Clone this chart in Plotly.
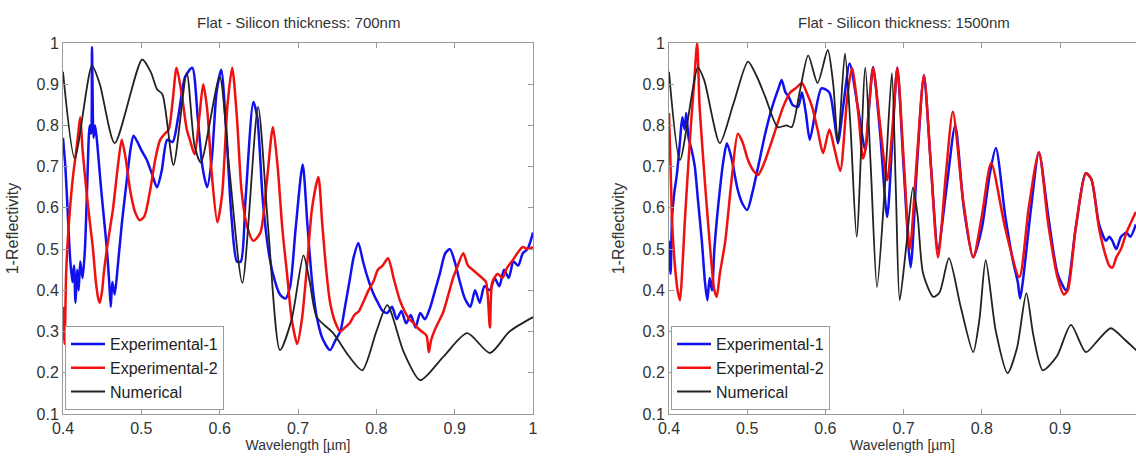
import plotly.graph_objects as go

# ---- 700 nm (left panel) ----
wl_700_exp1 = [0.400, 0.403, 0.406, 0.409, 0.412, 0.414, 0.416, 0.418, 0.420, 0.422, 0.425, 0.428, 0.431, 0.434,
               0.436, 0.437, 0.439, 0.441, 0.444, 0.448, 0.452, 0.456, 0.459, 0.461, 0.463, 0.466, 0.470, 0.475,
               0.481, 0.486, 0.490, 0.495, 0.500, 0.507, 0.514, 0.520, 0.526, 0.533, 0.540, 0.547, 0.556, 0.565,
               0.572, 0.578, 0.584, 0.590, 0.596, 0.602, 0.608, 0.615, 0.622, 0.627, 0.633, 0.643, 0.648, 0.655,
               0.662, 0.668, 0.677, 0.684, 0.690, 0.697, 0.706, 0.712, 0.718, 0.724, 0.732, 0.741, 0.748, 0.754,
               0.760, 0.766, 0.771, 0.777, 0.783, 0.789, 0.796, 0.802, 0.808, 0.814, 0.820, 0.826, 0.832, 0.838,
               0.844, 0.850, 0.856, 0.862, 0.869, 0.875, 0.881, 0.888, 0.894, 0.900, 0.907, 0.913, 0.920, 0.926,
               0.932, 0.938, 0.945, 0.951, 0.957, 0.963, 0.969, 0.975, 0.981, 0.987, 0.993, 1.000]
r_700_exp1 = [0.77, 0.70, 0.59, 0.48, 0.42, 0.46, 0.37, 0.45, 0.40, 0.47, 0.43, 0.50, 0.66, 0.80,
              0.78, 0.99, 0.77, 0.80, 0.75, 0.66, 0.58, 0.50, 0.42, 0.36, 0.42, 0.39, 0.46, 0.56,
              0.66, 0.74, 0.775, 0.76, 0.74, 0.716, 0.68, 0.65, 0.69, 0.765, 0.76, 0.82, 0.918, 0.94,
              0.82, 0.70, 0.65, 0.72, 0.88, 0.935, 0.80, 0.58, 0.47, 0.47, 0.62, 0.857, 0.82, 0.62,
              0.50, 0.44, 0.39, 0.38, 0.41, 0.55, 0.705, 0.56, 0.42, 0.335, 0.28, 0.255, 0.28, 0.30,
              0.36, 0.425, 0.48, 0.515, 0.47, 0.43, 0.393, 0.37, 0.35, 0.345, 0.36, 0.33, 0.35, 0.32,
              0.34, 0.31, 0.345, 0.33, 0.36, 0.40, 0.44, 0.49, 0.50, 0.47, 0.418, 0.38, 0.36, 0.40,
              0.37, 0.41, 0.40, 0.43, 0.41, 0.45, 0.43, 0.47, 0.46, 0.49, 0.50, 0.54]

wl_700_exp2 = [0.400, 0.402, 0.404, 0.406, 0.409, 0.413, 0.417, 0.420, 0.422, 0.425, 0.430, 0.434, 0.438, 0.442,
               0.445, 0.447, 0.450, 0.452, 0.456, 0.460, 0.464, 0.470, 0.475, 0.480, 0.486, 0.492, 0.498, 0.504,
               0.511, 0.518, 0.524, 0.530, 0.535, 0.540, 0.545, 0.552, 0.558, 0.562, 0.568, 0.574, 0.579, 0.584,
               0.590, 0.597, 0.603, 0.610, 0.616, 0.622, 0.628, 0.635, 0.643, 0.652, 0.660, 0.668, 0.674, 0.680,
               0.686, 0.692, 0.699, 0.705, 0.712, 0.718, 0.726, 0.731, 0.736, 0.741, 0.748, 0.754, 0.760, 0.766,
               0.772, 0.778, 0.783, 0.790, 0.796, 0.802, 0.808, 0.815, 0.822, 0.830, 0.836, 0.842, 0.848, 0.852,
               0.858, 0.864, 0.867, 0.870, 0.876, 0.885, 0.892, 0.898, 0.903, 0.911, 0.917, 0.923, 0.929, 0.935,
               0.940, 0.945, 0.948, 0.955, 0.961, 0.967, 0.973, 0.980, 0.987, 0.993, 1.000]
r_700_exp2 = [0.36, 0.27, 0.44, 0.52, 0.60, 0.68, 0.74, 0.79, 0.82, 0.74, 0.64, 0.57, 0.505, 0.42,
              0.38, 0.37, 0.40, 0.44, 0.50, 0.55, 0.60, 0.70, 0.765, 0.72, 0.64, 0.59, 0.57, 0.58,
              0.64, 0.72, 0.765, 0.78, 0.79, 0.86, 0.94, 0.87, 0.79, 0.765, 0.73, 0.82, 0.90, 0.84,
              0.68, 0.565, 0.63, 0.85, 0.94, 0.82, 0.64, 0.555, 0.52, 0.54, 0.66, 0.796, 0.70, 0.55,
              0.44, 0.33, 0.27, 0.33, 0.47, 0.60, 0.675, 0.56, 0.45, 0.37, 0.32, 0.30, 0.31, 0.32,
              0.34, 0.35, 0.37, 0.40, 0.42, 0.45, 0.46, 0.478, 0.43, 0.376, 0.35, 0.33, 0.32, 0.31,
              0.30, 0.29, 0.25, 0.28, 0.31, 0.345, 0.39, 0.43, 0.455, 0.49, 0.46, 0.45, 0.44, 0.43,
              0.42, 0.31, 0.42, 0.44, 0.43, 0.455, 0.47, 0.49, 0.505, 0.50, 0.505]

wl_700_num = [0.400, 0.415, 0.437, 0.447, 0.466, 0.501, 0.512, 0.520, 0.527, 0.541, 0.558, 0.568, 0.576, 0.600,
              0.612, 0.629, 0.649, 0.662, 0.677, 0.692, 0.707, 0.715, 0.724, 0.745, 0.765, 0.782, 0.800, 0.814,
              0.835, 0.856, 0.886, 0.916, 0.945, 0.970, 1.000]
r_700_num = [0.93, 0.72, 0.945, 0.90, 0.757, 0.96, 0.93, 0.888, 0.875, 0.704, 0.927, 0.75, 0.71, 0.918,
             0.70, 0.418, 0.845, 0.55, 0.255, 0.33, 0.485, 0.42, 0.335, 0.296, 0.24, 0.206, 0.30, 0.364,
             0.25, 0.182, 0.24, 0.296, 0.248, 0.30, 0.335]

# ---- 1500 nm (right panel) ----
wl_1500_exp1 = [0.400, 0.402, 0.404, 0.407, 0.410, 0.414, 0.417, 0.420, 0.422, 0.425, 0.429, 0.433, 0.437, 0.442,
                0.446, 0.449, 0.452, 0.455, 0.458, 0.465, 0.470, 0.474, 0.480, 0.488, 0.494, 0.500, 0.507, 0.514,
                0.523, 0.532, 0.540, 0.544, 0.549, 0.553, 0.558, 0.565, 0.570, 0.575, 0.580, 0.587, 0.595, 0.605,
                0.611, 0.616, 0.623, 0.631, 0.641, 0.651, 0.656, 0.661, 0.670, 0.679, 0.686, 0.692, 0.700, 0.709,
                0.717, 0.726, 0.735, 0.744, 0.755, 0.766, 0.777, 0.789, 0.800, 0.810, 0.818, 0.830, 0.840, 0.846,
                0.849, 0.853, 0.863, 0.873, 0.885, 0.897, 0.908, 0.920, 0.933, 0.940, 0.950, 0.959, 0.963, 0.967,
                0.972, 0.978, 0.985, 0.990, 0.997]
r_1500_exp1 = [0.52, 0.44, 0.58, 0.64, 0.68, 0.76, 0.82, 0.79, 0.83, 0.77, 0.74, 0.70, 0.62, 0.52,
               0.42, 0.376, 0.43, 0.40, 0.50, 0.643, 0.72, 0.757, 0.72, 0.643, 0.61, 0.595, 0.64, 0.70,
               0.78, 0.845, 0.89, 0.91, 0.88, 0.87, 0.85, 0.845, 0.88, 0.83, 0.765, 0.83, 0.89, 0.88,
               0.82, 0.757, 0.85, 0.95, 0.85, 0.74, 0.85, 0.942, 0.78, 0.578, 0.78, 0.94, 0.70, 0.456,
               0.70, 0.922, 0.70, 0.50, 0.65, 0.80, 0.60, 0.48, 0.55, 0.68, 0.745, 0.58, 0.47, 0.42,
               0.38, 0.43, 0.60, 0.735, 0.58, 0.44, 0.40, 0.55, 0.684, 0.67, 0.56, 0.52, 0.53, 0.52,
               0.50, 0.53, 0.54, 0.53, 0.56]

wl_1500_exp2 = [0.400, 0.402, 0.404, 0.408, 0.411, 0.414, 0.417, 0.420, 0.424, 0.428, 0.432, 0.436, 0.439, 0.442,
                0.446, 0.450, 0.455, 0.458, 0.461, 0.465, 0.472, 0.480, 0.488, 0.494, 0.501, 0.508, 0.514, 0.522,
                0.532, 0.546, 0.555, 0.562, 0.570, 0.576, 0.583, 0.590, 0.597, 0.605, 0.612, 0.619, 0.628, 0.634,
                0.642, 0.648, 0.651, 0.656, 0.661, 0.670, 0.679, 0.686, 0.692, 0.700, 0.708, 0.717, 0.726, 0.735,
                0.744, 0.754, 0.763, 0.776, 0.789, 0.800, 0.812, 0.830, 0.848, 0.860, 0.873, 0.885, 0.897, 0.905,
                0.910, 0.920, 0.933, 0.940, 0.950, 0.959, 0.963, 0.967, 0.972, 0.978, 0.985, 0.992, 0.997]
r_1500_exp2 = [0.83, 0.70, 0.563, 0.45, 0.40, 0.376, 0.45, 0.56, 0.684, 0.80, 0.90, 1.00, 0.85, 0.765,
               0.66, 0.563, 0.45, 0.40, 0.384, 0.44, 0.52, 0.667, 0.78, 0.76, 0.716, 0.69, 0.68, 0.71,
               0.765, 0.845, 0.88, 0.89, 0.903, 0.88, 0.845, 0.79, 0.733, 0.79, 0.74, 0.69, 0.87, 0.94,
               0.83, 0.72, 0.74, 0.85, 0.94, 0.80, 0.667, 0.80, 0.94, 0.72, 0.50, 0.72, 0.922, 0.70,
               0.48, 0.68, 0.833, 0.62, 0.48, 0.58, 0.709, 0.55, 0.432, 0.60, 0.735, 0.56, 0.43, 0.39,
               0.40, 0.55, 0.684, 0.67, 0.55, 0.48, 0.46, 0.455, 0.48, 0.50, 0.54, 0.57, 0.59]

wl_1500_num = [0.400, 0.414, 0.437, 0.445, 0.465, 0.482, 0.501, 0.512, 0.523, 0.539, 0.550, 0.557, 0.567, 0.578,
               0.590, 0.603, 0.610, 0.616, 0.625, 0.632, 0.640, 0.651, 0.658, 0.666, 0.676, 0.685, 0.690, 0.695,
               0.703, 0.712, 0.718, 0.725, 0.738, 0.746, 0.758, 0.773, 0.789, 0.797, 0.805, 0.818, 0.833, 0.845,
               0.857, 0.866, 0.878, 0.896, 0.914, 0.933, 0.949, 0.965, 0.983, 1.000]
r_1500_num = [0.93, 0.716, 0.94, 0.91, 0.757, 0.85, 0.955, 0.92, 0.87, 0.796, 0.80, 0.796, 0.88, 0.97,
              0.903, 0.983, 0.90, 0.757, 0.975, 0.80, 0.53, 0.94, 0.70, 0.408, 0.65, 0.927, 0.65, 0.376,
              0.50, 0.65, 0.58, 0.44, 0.384, 0.395, 0.478, 0.36, 0.25, 0.33, 0.473, 0.30, 0.199, 0.26,
              0.393, 0.29, 0.206, 0.24, 0.316, 0.25, 0.28, 0.308, 0.28, 0.25]

titles = ["Flat - Silicon thickness: 700nm", "Flat - Silicon thickness: 1500nm"]
names = ["Experimental-1", "Experimental-2", "Numerical"]
y_ticks = [0.1, 0.2, 0.3, 0.4, 0.5, 0.6, 0.7, 0.8, 0.9, 1.0]
y_labels = ["0.1", "0.2", "0.3", "0.4", "0.5", "0.6", "0.7", "0.8", "0.9", "1"]
x_ticks = [0.4, 0.5, 0.6, 0.7, 0.8, 0.9, 1.0]
x_labels = ["0.4", "0.5", "0.6", "0.7", "0.8", "0.9", "1"]

W, H = 1136, 457
FONT = "Liberation Sans, Arial, sans-serif"
AXCOL = "#9a9a9a"
TXT = "#333333"

panels = [
    ("x", "y", "legend", [(wl_700_exp1, r_700_exp1), (wl_700_exp2, r_700_exp2), (wl_700_num, r_700_num)]),
    ("x2", "y2", "legend2", [(wl_1500_exp1, r_1500_exp1), (wl_1500_exp2, r_1500_exp2), (wl_1500_num, r_1500_num)]),
]
colors = ["#1010f0", "#f01010", "#222222"]
widths = [2.5, 2.5, 1.8]

fig = go.Figure()
for xa, ya, lg, series in panels:
    for (xs, ys), nm, c, w in zip(series, names, colors, widths):
        fig.add_trace(go.Scatter(
            x=xs, y=ys, name=nm, mode="lines", xaxis=xa, yaxis=ya, legend=lg,
            line=dict(color=c, width=w, shape="spline", smoothing=0.7),
        ))

ydom = [1 - 414 / H, 1 - 43 / H]
axis_common = dict(
    showgrid=False, zeroline=False, showline=True, linecolor=AXCOL, linewidth=1,
    ticks="inside", ticklen=5, tickcolor=AXCOL, automargin=False,
    tickfont=dict(family=FONT, size=16, color=TXT),
)
xtitle_font = dict(family=FONT, size=14, color=TXT)
ytitle_font = dict(family=FONT, size=16, color=TXT)
legend_style = dict(xanchor="left", yanchor="bottom", y=1 - 410 / H,
                    bgcolor="white", bordercolor=AXCOL, borderwidth=1, itemwidth=34,
                    font=dict(family=FONT, size=16, color="#222222"), tracegroupgap=0)

fig.update_layout(
    width=W, height=H, autosize=False,
    margin=dict(l=0, r=0, t=0, b=0, pad=0, autoexpand=False),
    paper_bgcolor="white", plot_bgcolor="white",
    font=dict(family=FONT, color=TXT),
    xaxis=dict(domain=[63 / W, 533 / W], range=[0.4, 1.0], tickvals=x_ticks, ticktext=x_labels,
               mirror="ticks", anchor="y",
               title=dict(text="Wavelength [µm]", standoff=1, font=xtitle_font), **axis_common),
    yaxis=dict(domain=ydom, range=[0.1, 1.0], tickvals=y_ticks, ticktext=y_labels,
               mirror="ticks", anchor="x",
               title=dict(text="1-Reflectivity", standoff=13, font=ytitle_font), **axis_common),
    xaxis2=dict(domain=[669 / W, 1.0], range=[0.4, 0.4 + (W - 669) / 782.0], tickvals=x_ticks, ticktext=x_labels,
                mirror="ticks", anchor="y2",
                title=dict(text="Wavelength [µm]", standoff=1, font=xtitle_font), **axis_common),
    yaxis2=dict(domain=ydom, range=[0.1, 1.0], tickvals=y_ticks, ticktext=y_labels,
                mirror=False, anchor="x2",
                title=dict(text="1-Reflectivity", standoff=13, font=ytitle_font), **axis_common),
    legend=dict(x=65 / W, **legend_style),
    legend2=dict(x=671 / W, **legend_style),
    annotations=[
        dict(text=titles[0], x=298 / W, y=1 - 22 / H, xref="paper", yref="paper", showarrow=False,
             xanchor="center", yanchor="middle", font=dict(family=FONT, size=15, color=TXT)),
        dict(text=titles[1], x=904 / W, y=1 - 22 / H, xref="paper", yref="paper", showarrow=False,
             xanchor="center", yanchor="middle", font=dict(family=FONT, size=15, color=TXT)),
    ],
)

fig.write_html("out.html", config={"displayModeBar": False},
               post_script="document.body.style.margin='0';")
